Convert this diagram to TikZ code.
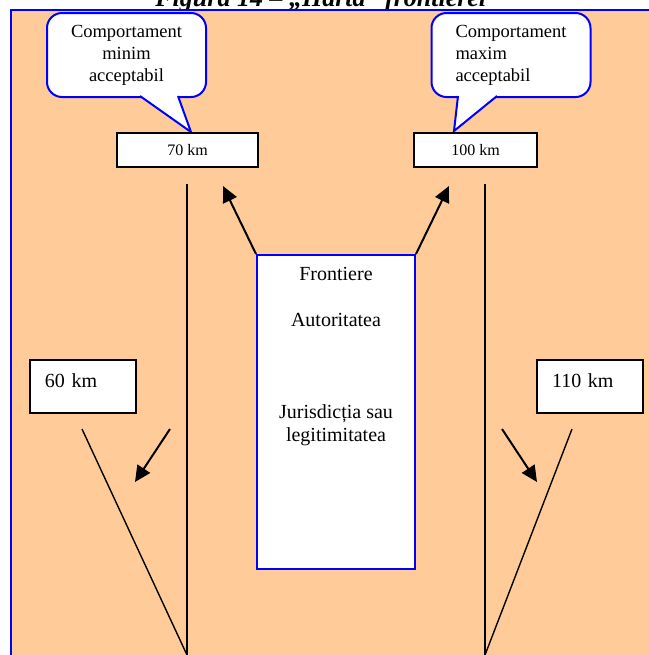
\documentclass[tikz,border=0pt]{standalone}
\usepackage{fontspec}
\setmainfont{Liberation Serif}
\usetikzlibrary{arrows.meta, positioning}
\definecolor{peach}{HTML}{FFCC99}
\tikzstyle{callout} = [rectangle, rounded corners=7.5pt, draw=blue, line width=1pt, fill=white, minimum width=79.5pt, minimum height=42pt, inner sep=0pt, font=\fontsize{9.25}{11}\selectfont]
\tikzstyle{kmbox} = [rectangle, draw, line width=1pt, fill=white, minimum height=17pt, font=\fontsize{8}{9.6}\selectfont]
\tikzstyle{sidebox} = [rectangle, draw, line width=1pt, fill=white, inner xsep=7.5pt, inner ysep=0pt, text width=38pt, align=left, text height=13.5pt, text depth=13pt, font=\fontsize{10}{12}\selectfont]
\tikzstyle{bluebox} = [rectangle, draw=blue, line width=1pt, fill=white, minimum width=79pt, minimum height=157pt]
\tikzstyle{pointer} = [fill=white, draw=blue, line width=1pt]
\tikzstyle{reg} = [-{Triangle[length=8pt,width=7.5pt]}, line width=1pt]
\tikzstyle{limit} = [line width=0.7pt]

\begin{document}
\begin{tikzpicture}[x=0.5pt, y=-0.5pt]
  \useasboundingbox (0,0) rectangle (649,655);
  \clip (0,0) rectangle (649,655);

  % titlu
  \node[anchor=base west, inner sep=0pt, font=\fontsize{13}{15}\selectfont\bfseries\itshape] (title) at (155,6.5) {Figura 14 – „Harta” frontierei};

  % fundal
  \filldraw[fill=peach, draw=blue, line width=1pt] (11,9.5) rectangle (700,700);

  % limite
  \coordinate (lt) at (187,184);
  \coordinate (lb) at (187,660);
  \coordinate (rt) at (485,184);
  \coordinate (rb) at (485,660);
  \coordinate (ld) at (82,429);
  \coordinate (rd) at (572,429);
  \draw[limit] (lt) -- (lb);
  \draw[limit] (rt) -- (rb);
  \draw[limit] (ld) -- (187,655);
  \draw[limit] (rd) -- (485,655);

  % comportament minim
  \node[callout, align=center] (lcall) at (126.5,55) {Comportament\\minim\\acceptabil};
  \coordinate (lp1) at (140,96);
  \coordinate (lp2) at (178,96);
  \coordinate (ltip) at (191,132);
  \filldraw[pointer] (lp1) -- (ltip) -- (lp2);
  \node[kmbox, minimum width=70.5pt] (b70) at (187.5,150) {70 km};

  % comportament maxim
  \node[callout, align=left] (rcall) at (511,55) {Comportament\\maxim\\acceptabil};
  \coordinate (rp1) at (458,96);
  \coordinate (rp2) at (497,96);
  \coordinate (rtip) at (454,131);
  \filldraw[pointer] (rp1) -- (rtip) -- (rp2);
  \node[kmbox, minimum width=61.5pt] (b100) at (475.5,150) {100 km};

  % frontiere
  \node[bluebox] (front) at (336,412) {};
  \node[anchor=north, align=center, inner sep=0pt, font=\fontsize{10}{11.5}\selectfont] (fronttxt) at (336,267) {Frontiere\\[11.5pt]Autoritatea\\[34.5pt]Jurisdicția sau\\legitimitatea};

  \coordinate (t70) at (223,186);
  \coordinate (t100) at (449,186);
  \draw[reg] (front.north west) -- (t70);
  \draw[reg] (front.north east) -- (t100);

  % 60 / 110 km
  \node[sidebox] (b60) at (83,386.5) {60 km};
  \node[sidebox] (b110) at (590,386.5) {110 km};

  \coordinate (s60) at (170,429);
  \coordinate (e60) at (135,482);
  \coordinate (s110) at (502,429);
  \coordinate (e110) at (537,482);
  \draw[reg] (s60) -- (e60);
  \draw[reg] (s110) -- (e110);
\end{tikzpicture}
\end{document}
